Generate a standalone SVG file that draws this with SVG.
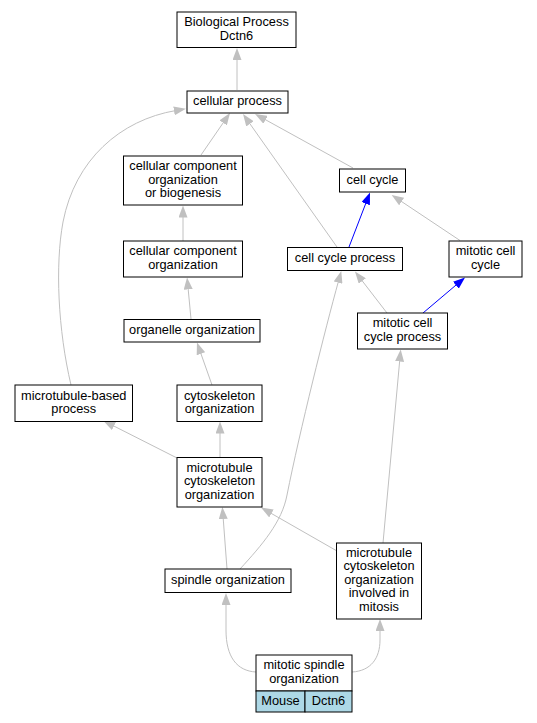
<svg xmlns="http://www.w3.org/2000/svg" width="537" height="723" viewBox="0 0 537 723">
<style>
.n rect{fill:#fff;stroke:#000;stroke-width:1}
text{font-family:"Liberation Sans",Arial,sans-serif;font-size:12.8px;text-anchor:middle;fill:#000}
.e path{fill:none;stroke:#c0c0c0;stroke-width:1;marker-end:url(#ag)}
.e path.b{stroke:#0000ff;marker-end:url(#ab)}
</style>
<defs>
<marker id="ag" markerUnits="userSpaceOnUse" viewBox="0 0 12 9" refX="2" refY="4.5" markerWidth="12" markerHeight="9" orient="auto"><path d="M0,0L12,4.5L0,9z" fill="#c0c0c0"/></marker>
<marker id="ab" markerUnits="userSpaceOnUse" viewBox="0 0 12 9" refX="2" refY="4.5" markerWidth="12" markerHeight="9" orient="auto"><path d="M0,0L12,4.5L0,9z" fill="#0000ff"/></marker>
</defs>
<rect width="537" height="723" fill="#fff"/>
<g class="e" id="edges">
<path d="M237,90L237,58"/>
<path d="M201,155L224.3,121.2"/>
<path d="M337,247L248.8,122.2"/>
<path d="M353,168L263.8,118.8"/>
<path d="M71,385C58,330 55,265 63,222C75,160 120,120 176,110.5"/>
<path d="M183,241L183,215.5"/>
<path d="M191,319L188,287.4"/>
<path d="M212,385L200.3,351.9"/>
<path d="M220,457L220,431.5"/>
<path d="M177,458L112.2,425.2"/>
<path d="M227,569L223.1,517"/>
<path d="M337,551L269.7,512.5"/>
<path d="M240,569C262,545 282,522 287,495C300,430 325,330 338.6,280.7"/>
<path d="M383,543L399.8,359.5"/>
<path d="M387,313L361.1,279.4"/>
<path class="b" d="M423,313L457.4,283.9"/>
<path class="b" d="M349,247L366.4,201.8"/>
<path d="M460,240.5L400,200.5"/>
<path d="M256,672C237,671 226,657 226,630L226,603"/>
<path d="M352,672C371,671 380,658 380,640L380,629"/>
</g>
<g class="n" id="n_bp"><rect x="177" y="12" width="119" height="35.5"/><text x="236.5" y="26">Biological Process</text><text x="236.5" y="39.6">Dctn6</text></g>
<g class="n" id="n_cp"><rect x="187" y="91" width="101" height="22"/><text x="237.5" y="105">cellular process</text></g>
<g class="n" id="n_ccoob"><rect x="123.5" y="156" width="119" height="49"/><text x="183" y="169.9">cellular component</text><text x="183" y="183.5">organization</text><text x="183" y="197.1">or biogenesis</text></g>
<g class="n" id="n_cc"><rect x="339.5" y="169" width="66" height="23"/><text x="372.5" y="183.7">cell cycle</text></g>
<g class="n" id="n_ccp"><rect x="287.5" y="247.5" width="115" height="23"/><text x="345" y="262.2">cell cycle process</text></g>
<g class="n" id="n_mcc"><rect x="449" y="241" width="73" height="36"/><text x="485.5" y="255.2">mitotic cell</text><text x="485.5" y="268.8">cycle</text></g>
<g class="n" id="n_cco"><rect x="123.5" y="241" width="119" height="36"/><text x="183" y="255.2">cellular component</text><text x="183" y="268.8">organization</text></g>
<g class="n" id="n_mccp"><rect x="357.5" y="313" width="90" height="36"/><text x="402.5" y="327.2">mitotic cell</text><text x="402.5" y="340.8">cycle process</text></g>
<g class="n" id="n_oo"><rect x="124" y="319.5" width="136" height="22.5"/><text x="192" y="334">organelle organization</text></g>
<g class="n" id="n_mbp"><rect x="15" y="385" width="117.5" height="36.5"/><text x="73.75" y="399.5">microtubule-based</text><text x="73.75" y="413.1">process</text></g>
<g class="n" id="n_co"><rect x="177" y="385" width="85" height="36.5"/><text x="219.5" y="399.5">cytoskeleton</text><text x="219.5" y="413.1">organization</text></g>
<g class="n" id="n_mco"><rect x="177" y="457.5" width="85" height="49.5"/><text x="219.5" y="471.7">microtubule</text><text x="219.5" y="485.3">cytoskeleton</text><text x="219.5" y="498.9">organization</text></g>
<g class="n" id="n_so"><rect x="165" y="569" width="126" height="23.5"/><text x="228" y="584">spindle organization</text></g>
<g class="n" id="n_mctoim"><rect x="336.5" y="543" width="85" height="76"/><text x="379" y="556.6">microtubule</text><text x="379" y="570.2">cytoskeleton</text><text x="379" y="583.8">organization</text><text x="379" y="597.4">involved in</text><text x="379" y="611">mitosis</text></g>
<g class="n" id="n_mso"><rect x="256" y="655" width="96" height="36"/><text x="304" y="669.2">mitotic spindle</text><text x="304" y="682.8">organization</text><rect x="256" y="691" width="49" height="21" style="fill:#add8e6"/><rect x="305" y="691" width="47" height="21" style="fill:#add8e6"/><text x="280.5" y="705">Mouse</text><text x="328.5" y="705">Dctn6</text></g>
</svg>
